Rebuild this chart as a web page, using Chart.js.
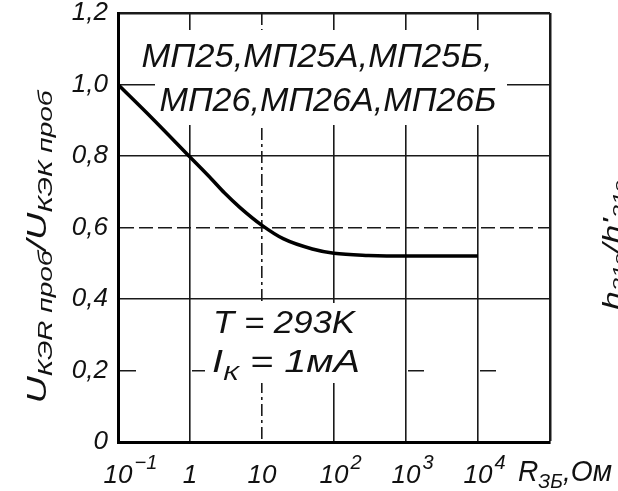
<!DOCTYPE html>
<html><head><meta charset="utf-8">
<script src="https://cdn.jsdelivr.net/npm/chart.js@4"></script>
<style>html,body{margin:0;padding:0;background:#fff;}canvas{display:block;}</style>
</head><body>
<canvas id="c" width="618" height="491"></canvas>
<script>
// ---- data ----
const resistance = [0.1, 0.3, 1, 2, 3, 5, 10, 20, 50, 100, 300, 1000, 10000];
const voltageRatio = [1.0, 0.905, 0.797, 0.735, 0.697, 0.655, 0.606, 0.568, 0.54, 0.528, 0.522, 0.52, 0.52];
const xTickValues = [0.1, 1, 10, 100, 1000, 10000, 100000];
const xTickBase = ['10', '1', '10', '10', '10', '10', ''];
const xTickExp = ['−1', '', '', '2', '3', '4', ''];
const yTickValues = [0, 0.2, 0.4, 0.6, 0.8, 1.0, 1.2];
const yTickLabels = ['0', '0,2', '0,4', '0,6', '0,8', '1,0', '1,2'];
const typeLines = ['МП25,МП25А,МП25Б,', 'МП26,МП26А,МП26Б'];
const tempLabel = 'T = 293K';
const currentLabel = ['I', 'К', ' = 1мА'];
const yTitle = ['U', 'КЭR проб', '/U', 'КЭК проб'];
const xTitle = ['R', 'ЗБ', ',Ом'];
const sideFragment = ['h', '21э', '/h\'', '21э'];

const FONT = "'Liberation Sans', Arial, sans-serif";
const INK = '#111';

function runWidth(ctx, parts) {
  let w = 0;
  for (const p of parts) { ctx.font = `italic ${p.size}px ${FONT}`; w += ctx.measureText(p.t).width; }
  return w;
}
function drawRun(ctx, parts, x, y, targetW, rot, alignLeft) {
  const w = runWidth(ctx, parts);
  const sx = targetW ? targetW / w : 1;
  ctx.save();
  ctx.translate(x, y);
  if (rot) ctx.rotate(rot);
  ctx.scale(sx, 1);
  let cx = alignLeft ? 0 : -w / 2;
  ctx.fillStyle = INK; ctx.textBaseline = 'alphabetic'; ctx.textAlign = 'left';
  for (const p of parts) {
    ctx.font = `italic ${p.size}px ${FONT}`;
    ctx.fillText(p.t, cx, p.dy || 0);
    cx += ctx.measureText(p.t).width;
  }
  ctx.restore();
}

const annotations = {
  id: 'annotations',
  beforeDatasetsDraw(chart) {
    const ctx = chart.ctx;
    ctx.save();
    ctx.fillStyle = '#fff';
    ctx.fillRect(138, 30, 362, 50);
    ctx.fillRect(155, 80, 352, 45);
    ctx.fillRect(205, 303, 160, 80);
    ctx.restore();
  },
  afterDatasetsDraw(chart) {
    const ctx = chart.ctx;
    const xs = chart.scales.x;
    // x tick labels with real superscripts, placed through the x scale
    ctx.save();
    ctx.fillStyle = INK; ctx.textBaseline = 'alphabetic';
    xTickValues.forEach((v, i) => {
      if (!xTickBase[i]) return;
      const px = xs.getPixelForValue(v);
      ctx.font = `italic 26px ${FONT}`;
      const bw = ctx.measureText(xTickBase[i]).width;
      ctx.textAlign = 'left';
      ctx.fillText(xTickBase[i], px - bw / 2, 483);
      if (xTickExp[i]) {
        ctx.font = `italic 20px ${FONT}`;
        ctx.fillText(xTickExp[i], px + bw / 2 + 2, 469);
      }
    });
    ctx.restore();
    drawRun(ctx, [{t: typeLines[0], size: 33}], 317, 67, 351);
    drawRun(ctx, [{t: typeLines[1], size: 33}], 328, 111, 337);
    drawRun(ctx, [{t: tempLabel, size: 31}], 284, 333, 142);
    drawRun(ctx, [{t: currentLabel[0], size: 31}, {t: currentLabel[1], size: 21, dy: 8}, {t: currentLabel[2], size: 31}], 286, 372, 148);
    drawRun(ctx, [{t: yTitle[0], size: 27}, {t: yTitle[1], size: 20, dy: 6}, {t: yTitle[2], size: 27}, {t: yTitle[3], size: 20, dy: 6}], 46, 247, 313, -Math.PI / 2);
    drawRun(ctx, [{t: xTitle[0], size: 29}, {t: xTitle[1], size: 20, dy: 7}, {t: xTitle[2], size: 29}], 518, 481, 94, 0, true);
    drawRun(ctx, [{t: sideFragment[0], size: 24}, {t: sideFragment[1], size: 17, dy: 5}, {t: sideFragment[2], size: 24}, {t: sideFragment[3], size: 17, dy: 5}], 620, 245, 130, -Math.PI / 2);
  }
};

new Chart(document.getElementById('c'), {
  type: 'line',
  data: {
    datasets: [{
      data: resistance.map((r, i) => ({x: r, y: voltageRatio[i]})),
      borderColor: '#000',
      borderWidth: 3.5,
      pointRadius: 0,
      cubicInterpolationMode: 'monotone',
      fill: false
    }]
  },
  options: {
    responsive: false,
    animation: false,
    devicePixelRatio: 1,
    layout: {padding: {left: 0, right: 68, top: 13, bottom: 0}},
    plugins: {legend: {display: false}, tooltip: {enabled: false}},
    scales: {
      x: {
        type: 'logarithmic',
        min: 0.1, max: 100000,
        afterBuildTicks: s => { s.ticks = xTickValues.map(v => ({value: v})); },
        afterFit: s => { s.height = 49; s.paddingLeft = 0; s.paddingRight = 0; },
        ticks: {display: false, autoSkip: false},
        grid: {
          drawTicks: false,
          color: '#1a1a1a',
          lineWidth: c => (c.tick && c.tick.value === 100000) ? 2.5 : 1.6
        },
        border: {
          display: true, color: '#000', width: 3,
          dash: c => (c.tick && c.tick.value === 10) ? [12, 4, 3, 4] : []
        }
      },
      y: {
        type: 'linear',
        min: 0, max: 1.2,
        afterBuildTicks: s => { s.ticks = yTickValues.map(v => ({value: v})); },
        afterFit: s => { s.width = 118; s.paddingTop = 0; s.paddingBottom = 0; },
        ticks: {
          padding: 10, color: INK,
          font: {family: FONT, style: 'italic', size: 26},
          callback: (v, i) => yTickLabels[i]
        },
        grid: {
          drawTicks: false,
          color: '#1a1a1a',
          lineWidth: c => (c.tick && Math.abs(c.tick.value - 1.2) < 1e-6) ? 2.5 : 1.6
        },
        border: {
          display: true, color: '#000', width: 3,
          dash: c => {
            if (!c.tick) return [];
            const v = c.tick.value;
            if (Math.abs(v - 0.2) < 1e-6) return [16, 56];
            if (Math.abs(v - 0.6) < 1e-6) return [14, 5];
            return [];
          }
        }
      }
    }
  },
  plugins: [annotations]
});
</script>
</body></html>
